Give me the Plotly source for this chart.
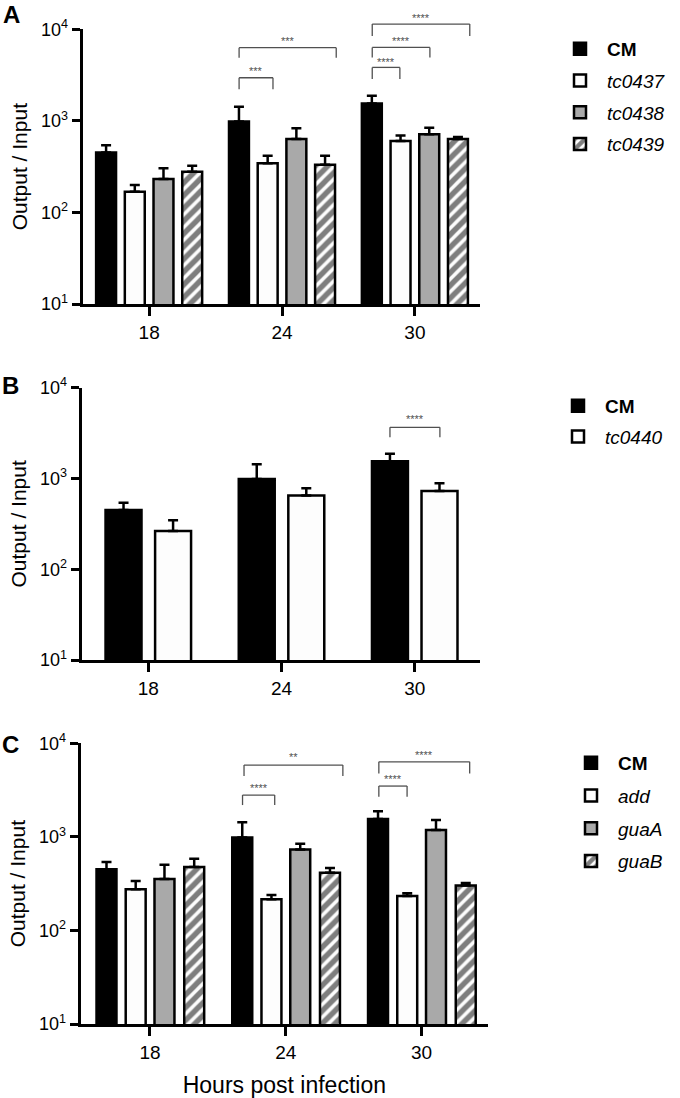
import plotly.graph_objects as go

# ---------------- data ----------------
hours = ["18", "24", "30"]

cm_mean = [450, 985, 1550]
cm_sem = [90, 445, 325]

tc0437_mean = [168, 344, 603]
tc0437_sem = [31, 72, 90]
tc0438_mean = [232, 632, 713]
tc0438_sem = [71, 196, 128]
tc0439_mean = [278, 332, 632]
tc0439_sem = [45, 84, 33]

tc0440_mean = [264, 651, 726]
tc0440_sem = [82, 127, 157]

add_mean = [275, 216, 233]
add_sem = [62, 23, 16]
guaA_mean = [354, 735, 1183]
guaA_sem = [149, 108, 327]
guaB_mean = [475, 414, 303]
guaB_sem = [108, 50, 18]

y_tickvals = [10, 100, 1000, 10000]
y_ticktext = ["10<sup>1</sup>", "10<sup>2</sup>", "10<sup>3</sup>", "10<sup>4</sup>"]

# significance brackets: (panel, hour index, left offset, right offset, top log10, foot log10, label log10, label)
brackets = [
    (0, 1, -0.323, -0.068, 3.471, 3.344, 3.544, "***"),
    (0, 1, -0.323, 0.408, 3.799, 3.690, 3.871, "***"),
    (0, 2, -0.321, -0.113, 3.584, 3.456, 3.645, "****"),
    (0, 2, -0.321, 0.113, 3.802, 3.693, 3.874, "****"),
    (0, 2, -0.321, 0.413, 4.057, 3.926, 4.119, "****"),
    (1, 2, -0.186, 0.189, 3.563, 3.453, 3.651, "****"),
    (2, 1, -0.318, -0.081, 3.447, 3.340, 3.525, "****"),
    (2, 1, -0.307, 0.421, 3.767, 3.650, 3.849, "**"),
    (2, 2, -0.314, -0.106, 3.543, 3.428, 3.618, "****"),
    (2, 2, -0.314, 0.355, 3.802, 3.678, 3.874, "****"),
]

# ---------------- styling ----------------
FONT = "Liberation Sans, Arial, Helvetica, sans-serif"
BLACK = "#000000"
WHITE = "#fdfdfd"
GREY = "#a9a9a9"

styles = {
    "black": dict(color=BLACK),
    "white": dict(color=WHITE),
    "grey": dict(color=GREY),
    "hatch": dict(color=WHITE, pattern=dict(shape="/", fgcolor=BLACK, bgcolor=WHITE, size=9, solidity=0.6)),
}

panels = [
    dict(series=[("<b>CM</b>", cm_mean, cm_sem, "black"),
                 ("<i>tc0437</i>", tc0437_mean, tc0437_sem, "white"),
                 ("<i>tc0438</i>", tc0438_mean, tc0438_sem, "grey"),
                 ("<i>tc0439</i>", tc0439_mean, tc0439_sem, "hatch")],
         width=0.15, centers=[-0.324, -0.108, 0.108, 0.324],
         xdom=[82.7, 480], ydom=[29.3, 304], xrange=[-0.5, 2.49],
         legend=dict(x=553, y=30, gap=4), letter=("A", 11, 14), xtitle=None),
    dict(series=[("<b>CM</b>", cm_mean, cm_sem, "black"),
                 ("<i>tc0440</i>", tc0440_mean, tc0440_sem, "white")],
         width=0.27, centers=[-0.186, 0.186],
         xdom=[81.7, 480], ydom=[387.7, 660], xrange=[-0.5, 2.49],
         legend=dict(x=551, y=387, gap=3), letter=("B", 10, 385), xtitle=None),
    dict(series=[("<b>CM</b>", cm_mean, cm_sem, "black"),
                 ("<i>add</i>", add_mean, add_sem, "white"),
                 ("<i>guaA</i>", guaA_mean, guaA_sem, "grey"),
                 ("<i>guaB</i>", guaB_mean, guaB_sem, "hatch")],
         width=0.147, centers=[-0.32, -0.105, 0.107, 0.326],
         xdom=[80.7, 488], ydom=[743.3, 1024], xrange=[-0.51, 2.49],
         legend=dict(x=564, y=744, gap=5), letter=("C", 10, 744), xtitle="Hours post infection"),
]

W, H = 680, 1098
fig = go.Figure()
layout = dict(
    width=W, height=H,
    margin=dict(l=0, r=0, t=0, b=0, autoexpand=False),
    paper_bgcolor="white", plot_bgcolor="white",
    font=dict(family=FONT, color=BLACK),
    barmode="group",
    showlegend=True,
)
shapes = []
annotations = []

for p_i, p in enumerate(panels):
    sfx = "" if p_i == 0 else str(p_i + 1)
    xname, yname = "x" + sfx, "y" + sfx
    lname = "legend" + sfx
    for s_i, (name, mean, sem, st) in enumerate(p["series"]):
        fig.add_trace(go.Bar(
            x=hours, y=mean, name=name,
            xaxis=xname, yaxis=yname,
            legend=lname, legendgroup=f"{p_i}-{s_i}",
            width=p["width"], offset=p["centers"][s_i] - p["width"] / 2,
            marker=dict(**styles[st], line=dict(color=BLACK, width=2.5)),
            error_y=dict(type="data", array=sem, arrayminus=[0] * len(sem), symmetric=False,
                         color=BLACK, thickness=2.5, width=5),
        ))
    xd = [p["xdom"][0] / W, p["xdom"][1] / W]
    yd = [1 - p["ydom"][1] / H, 1 - p["ydom"][0] / H]
    xax = dict(
        domain=xd, anchor=yname, type="category", range=p["xrange"], automargin=False,
        showline=True, linewidth=3, linecolor=BLACK,
        ticks="outside", ticklen=9, tickwidth=3, tickcolor=BLACK,
        tickfont=dict(size=19, family=FONT), showgrid=False, zeroline=False,
    )
    if p["xtitle"]:
        xax["title"] = dict(text=p["xtitle"], font=dict(size=23, family=FONT), standoff=16)
    layout["xaxis" + sfx] = xax
    layout["yaxis" + sfx] = dict(
        domain=yd, anchor=xname, type="log", range=[1, 4], automargin=False,
        tickvals=y_tickvals, ticktext=y_ticktext,
        showline=True, linewidth=3, linecolor=BLACK,
        ticks="outside", ticklen=8, tickwidth=3, tickcolor=BLACK,
        tickfont=dict(size=18, family=FONT), showgrid=False, zeroline=False,
        title=dict(text="Output / Input", font=dict(size=21, family=FONT), standoff=8),
    )
    layout[lname] = dict(
        x=p["legend"]["x"] / W, y=1 - p["legend"]["y"] / H,
        xanchor="left", yanchor="top",
        font=dict(size=19, family=FONT, color=BLACK),
        bgcolor="rgba(0,0,0,0)", tracegroupgap=p["legend"]["gap"], itemwidth=44,
    )
    letter, lx, ly = p["letter"]
    annotations.append(dict(text=f"<b>{letter}</b>", xref="paper", yref="paper",
                            x=lx / W, y=1 - ly / H, showarrow=False,
                            font=dict(size=24, family=FONT, color=BLACK),
                            xanchor="center", yanchor="middle"))

for (p_i, g, o0, o1, top, foot, lab, text) in brackets:
    sfx = "" if p_i == 0 else str(p_i + 1)
    r0, r1 = panels[p_i]["xrange"]
    fx0 = (g + o0 - r0) / (r1 - r0)
    fx1 = (g + o1 - r0) / (r1 - r0)
    ft = (top - 1) / 3
    ff = (foot - 1) / 3
    fl = (lab - 1) / 3
    ln = dict(color="#505050", width=1.3)
    for (a0, b0, a1, b1) in [(fx0, ff, fx0, ft), (fx0, ft, fx1, ft), (fx1, ft, fx1, ff)]:
        shapes.append(dict(type="line", xref=f"x{sfx} domain", yref=f"y{sfx} domain",
                           x0=a0, y0=b0, x1=a1, y1=b1, line=ln))
    annotations.append(dict(text=text, xref=f"x{sfx} domain", yref=f"y{sfx} domain",
                            x=(fx0 + fx1) / 2, y=fl, showarrow=False,
                            font=dict(size=11, family=FONT, color="#505050"),
                            xanchor="center", yanchor="middle"))

layout["shapes"] = shapes
layout["annotations"] = annotations
fig.update_layout(**layout)
fig.write_html("out.html", config={"displayModeBar": False},
               post_script="document.body.style.margin='0';document.body.style.overflow='hidden';")
